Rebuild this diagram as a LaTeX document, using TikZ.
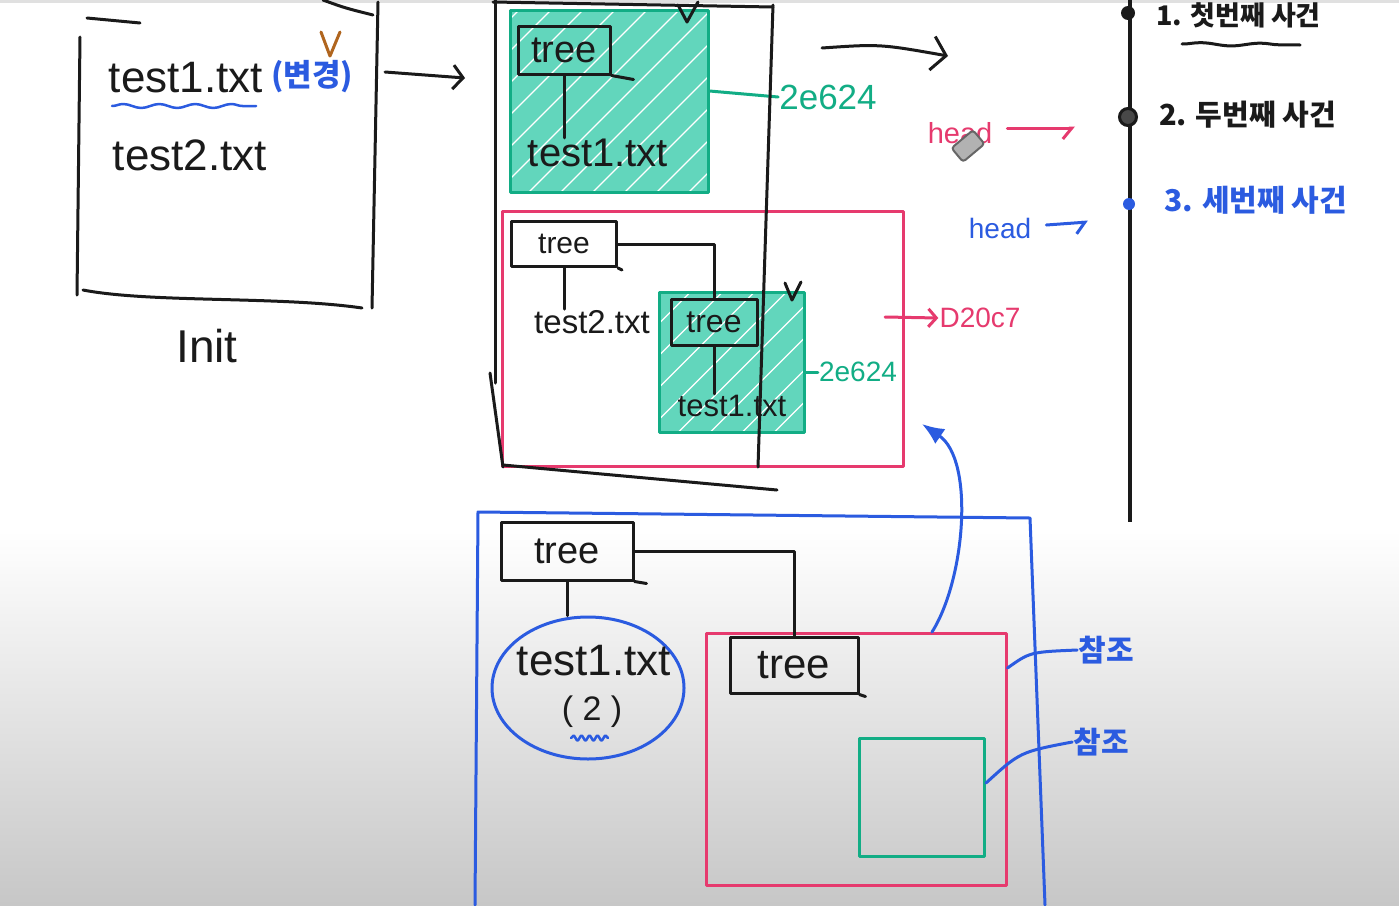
\documentclass[tikz,border=0pt]{standalone}
\usepackage{fontspec}
\setmainfont{Liberation Sans}
\newfontfamily\kr{Noto Sans CJK KR}
\usetikzlibrary{arrows.meta,shapes.geometric,decorations.pathmorphing,calc}
\newcommand\hsz[1]{\fontsize{#1}{#1}\selectfont}
\definecolor{ink}{HTML}{1A1A1A}
\definecolor{pinkc}{HTML}{E63A6E}
\definecolor{gline}{HTML}{12AD85}
\definecolor{gfill}{HTML}{62D6BC}
\definecolor{bluec}{HTML}{2B5BE0}
\definecolor{brownc}{HTML}{B0651E}
\tikzset{
 pen/.style={line width=3pt, line cap=round, line join=round},
 inkp/.style={pen, draw=ink},
 txt/.style={inner sep=1pt, text=ink},
 treebox/.style={draw=ink, pen, inner sep=2pt, text=ink},
 gbox/.style={draw=gline, pen},
 pbox/.style={draw=pinkc, pen},
 hatch/.style={path picture={\foreach \k in {0,...,22}{\draw[gfill, line width=21pt, line cap=round] ([shift={(\k*32-300,15)}]path picture bounding box.south west) -- ++(320,-320);}}},
 barb/.style={-{Straight Barb[length=10pt,width=24pt]}},
 hook/.style={-{Straight Barb[harpoon,swap,length=9pt,width=22pt]}},
 krt/.style={font=\kr\bfseries\hsz{#1}},
}
\begin{document}
\begin{tikzpicture}[x=1pt,y=-1pt]
\useasboundingbox (0,0) rectangle (1399,905);
\fill[white] (0,0) rectangle (1399,530);
\shade[top color=white, bottom color=black!22] (0,530) rectangle (1399,905);
\fill[black!12] (0,0) rectangle (1399,3);

% ---- Init box
\draw[inkp] (80,37) -- (77,295);
\draw[inkp] (378,2) -- (372,308);
\draw[inkp] (83,290) .. controls (150,303) and (280,296) .. (362,308);
\draw[inkp] (87,18) -- (140,23);
\draw[inkp] (323,0) .. controls (345,8) .. (373,15);
\node[txt, font=\hsz{44}] (a1) at (186,78) {test1.txt};
\node[txt, text=bluec, krt=31] (a1c) at (312,77) {(변경)};
\draw[brownc, pen] (321,32) -- (330,56) -- (340,32);
\draw[bluec, pen, line width=2.5pt, decorate, decoration={snake, amplitude=2pt, segment length=36pt}] (112,106) -- (256,106);
\node[txt, font=\hsz{44}] (a2) at (190,155) {test2.txt};
\node[txt, font=\hsz{46}] (init) at (207,346) {Init};
\coordinate (ar1s) at (385,72);
\coordinate (ar1e) at (465,78);
\draw[inkp, barb] (ar1s) -- (ar1e);

% ---- middle commit
\node[gbox, hatch, minimum width=198, minimum height=182] (g1) at (609,101) {};
\node[treebox, minimum width=92, minimum height=48, font=\hsz{38}] (t1) at (564,50) {tree};
\draw[inkp] (t1.south east) -- ++(22,4);
\node[txt, font=\hsz{40}] (f1) at (598,153) {test1.txt};
\draw[inkp] (t1.south) -- (t1.south |- f1.north);
\draw[inkp] (678,5) -- (687,22) -- (698,2);
\node[txt, text=gline, font=\hsz{35}] (lab1) at (828,97) {2e624};
\draw[gline, pen] ([yshift=10pt]g1.east) -- (lab1.west);

\node[pbox, minimum width=401, minimum height=255] (pb1) at (702.5,339) {};
\node[treebox, minimum width=105, minimum height=45, font=\hsz{30}] (t2) at (564,244) {tree};
\draw[inkp] (t2.south east) -- ++(4,2);
\node[txt, font=\hsz{33}] (f2) at (592,322) {test2.txt};
\node[gbox, hatch, minimum width=145, minimum height=140] (g2) at (732,362) {};
\node[treebox, minimum width=86, minimum height=46, font=\hsz{32}] (t3) at (714,322) {tree};
\node[txt, font=\hsz{31}] (f3) at (732,406) {test1.txt};
\draw[inkp] (t2.east) -| (t3.north);
\draw[inkp] (t2.south) -- (t2.south |- f2.north);
\draw[inkp] (t3.south) -- (t3.south |- f3.north);
\draw[inkp] (785,283) -- (792,300) -- (801,282);
\node[txt, text=gline, font=\hsz{28}] (lab2) at (858,372) {2e624};
\draw[gline, pen] (g2.east |- lab2.west) -- (lab2.west);

\draw[inkp] (493,2) -- (773,7);
\draw[inkp] (495,0) -- (495,383);
\draw[inkp] (490,373) -- (503,467);
\draw[inkp] (503,465) -- (777,490);
\draw[inkp] (773,5) -- (758,467);

\node[txt, text=pinkc, font=\hsz{28}] (d20) at (980,318) {D20c7};
\coordinate (pa) at (885,317);
\draw[pinkc, pen, -{Straight Barb[length=8pt,width=18pt]}] (pa) -- (d20.west);

\coordinate (ta1) at (822,48);
\coordinate (ta2) at (948,56);
\draw[inkp, -{Straight Barb[length=14pt,width=34pt]}] (ta1) .. controls (880,44) .. (ta2);

\node[txt, text=pinkc, font=\hsz{29}] (hd1) at (960,133) {head};
\node[rotate=40, draw=black!60, fill=black!30, rounded corners=3pt, minimum width=28, minimum height=18, line width=2pt] (era) at (968,146) {};
\coordinate (hd1e) at (1075,128);
\draw[pinkc, pen, hook] ([xshift=14pt,yshift=5pt]hd1.east) -- (hd1e);
\node[txt, text=bluec, font=\hsz{28}] (hd2) at (1000,228) {head};
\coordinate (hd2e) at (1088,222);
\draw[bluec, pen, hook] ([xshift=14pt,yshift=3pt]hd2.east) -- (hd2e);

% ---- timeline
\coordinate (tl0) at (1130,0);
\coordinate (tl1) at (1130,522);
\draw[ink, line width=4pt] (tl0) -- (tl1);
\node[circle, fill=ink, minimum size=14, inner sep=0] (d1) at (1128,13) {};
\node[circle, draw=ink, fill=ink!80, line width=3, minimum size=17, inner sep=0] (d2) at (1128,117) {};
\node[circle, fill=bluec, minimum size=12, inner sep=0] (d3) at (1129,204) {};
\node[txt, krt=27, anchor=west] (ev1) at (1155,15) {1. 첫번째 사건};
\draw[inkp, decorate, decoration={snake,amplitude=1.5pt,segment length=60pt}] (1182,44) -- (1300,45);
\node[txt, krt=29, anchor=west] (ev2) at (1158,115) {2. 두번째 사건};
\node[txt, text=bluec, krt=30, anchor=west] (ev3) at (1163,200) {3. 세번째 사건};

% ---- bottom commit
\draw[bluec, pen] (475,905) -- (478,512) -- (1030,518) -- (1045,905);
\node[treebox, minimum width=132, minimum height=58, font=\hsz{38}] (t4) at (567,551) {tree};
\draw[inkp] (t4.south east) -- ++(12,2);
\node[ellipse, draw=bluec, pen, minimum width=192, minimum height=142] (ell) at (588,688) {};
\node[txt, font=\hsz{44}] (f4) at (594,661) {test1.txt};
\node[txt, font=\hsz{34}] (n2) at (592,712) {( 2 )};
\draw[bluec, pen, line width=2.5pt, decorate, decoration={snake,amplitude=2.5pt,segment length=8pt}] (571,738) -- (608,738);
\node[pbox, minimum width=300, minimum height=252] (pb2) at (856,759) {};
\node[treebox, minimum width=128, minimum height=56, font=\hsz{42}] (t5) at (794,665) {tree};
\draw[inkp] (t5.south east) -- ++(6,2);
\draw[inkp] (t4.east) -| (t5.north);
\draw[inkp] (t4.south) -- (t4.south |- ell.north);
\node[gbox, minimum width=125, minimum height=118] (g3) at (922,797) {};
\coordinate (bcs) at (932,632);
\coordinate (bce) at (922,424);
\draw[bluec, pen, -{Latex[length=22pt,width=18pt]}] (bcs) .. controls (965,580) and (975,460) .. (bce);
\node[txt, text=bluec, krt=30] (c1) at (1106,650) {참조};
\node[txt, text=bluec, krt=30] (c2) at (1101,742) {참조};
\draw[bluec, pen] ([yshift=91pt]pb2.east) .. controls (1030,652) .. (c1.west);
\draw[bluec, pen] ([yshift=14pt]g3.east) .. controls (1020,752) .. (c2.west);
\end{tikzpicture}
\end{document}
